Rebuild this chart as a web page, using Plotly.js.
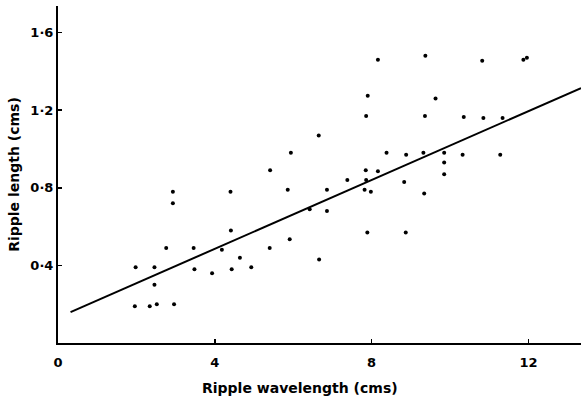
<!DOCTYPE html>
<html>
<head>
<meta charset="utf-8">
<script src="https://cdn.plot.ly/plotly-3.0.1.min.js"></script>
<style>html,body{margin:0;padding:0;background:#fff;}#chart{width:581px;height:401px;}</style>
</head>
<body>
<div id="chart"></div>
<script>
// Observed ripples: wavelength (cms) and length (cms)
const wavelength = [1.96,1.98,2.34,2.46,2.46,2.52,2.76,2.93,2.93,2.96,3.46,3.48,3.93,4.18,4.40,4.41,4.43,4.64,4.93,5.40,5.41,5.86,5.91,5.94,6.42,6.65,6.66,6.86,6.86,7.38,7.82,7.85,7.86,7.86,7.89,7.90,7.98,8.16,8.16,8.38,8.83,8.87,8.88,9.32,9.34,9.36,9.37,9.63,9.85,9.85,9.85,10.32,10.35,10.82,10.85,11.28,11.34,11.87,11.96];
const rippleLength = [0.19,0.39,0.19,0.39,0.30,0.20,0.49,0.72,0.78,0.20,0.49,0.38,0.36,0.48,0.78,0.58,0.38,0.44,0.39,0.49,0.89,0.79,0.535,0.98,0.69,1.07,0.43,0.79,0.68,0.84,0.79,0.89,0.84,1.17,0.57,1.275,0.78,0.885,1.46,0.98,0.83,0.57,0.97,0.98,0.77,1.17,1.48,1.26,0.98,0.93,0.87,0.97,1.165,1.455,1.16,0.97,1.16,1.46,1.47];
// Fitted line end points
const fitX = [0.32, 13.34];
const fitY = [0.159, 1.314];
// Tick labels
const xTickVals = [0, 4, 8, 12];
const xTickText = ["0", "4", "8", "12"];
const yTickVals = [0.4, 0.8, 1.2, 1.6];
const yTickText = ["0·4", "0·8", "1·2", "1·6"];

const tickFont = {family: "DejaVu Sans", size: 13, color: "#000", weight: "bold"};
const titleFont = {family: "DejaVu Sans", size: 14, color: "#000", weight: "bold"};

const traces = [
  {x: wavelength, y: rippleLength, type: "scatter", mode: "markers",
   marker: {color: "#000", size: 4}, hoverinfo: "x+y"},
  {x: fitX, y: fitY, type: "scatter", mode: "lines",
   line: {color: "#000", width: 2}, hoverinfo: "skip"}
];

const layout = {
  width: 581, height: 401,
  margin: {l: 58, r: 0, t: 6, b: 58},
  paper_bgcolor: "#fff", plot_bgcolor: "#fff",
  showlegend: false,
  font: tickFont,
  xaxis: {
    range: [0, 13.34], showgrid: false, zeroline: false,
    showline: true, linecolor: "#000", linewidth: 2,
    ticks: "inside", ticklen: 4, tickwidth: 1.5, tickcolor: "#000",
    tickvals: xTickVals, ticktext: xTickText, ticklabelstandoff: 6,
    tickfont: tickFont, title: {text: ""}
  },
  yaxis: {
    range: [0, 1.737], showgrid: false, zeroline: false,
    showline: true, linecolor: "#000", linewidth: 2,
    ticks: "inside", ticklen: 4, tickwidth: 1.5, tickcolor: "#000",
    tickvals: yTickVals, ticktext: yTickText,
    tickfont: tickFont,
    title: {text: "Ripple length (cms)", font: titleFont, standoff: 7}
  },
  annotations: [
    {text: "Ripple wavelength (cms)", xref: "paper", yref: "paper",
     x: (300 - 58) / 523, y: -45 / 337, xanchor: "center", yanchor: "middle",
     showarrow: false, font: titleFont}
  ]
};

Plotly.newPlot("chart", traces, layout, {displayModeBar: false, staticPlot: true});
</script>
</body>
</html>
